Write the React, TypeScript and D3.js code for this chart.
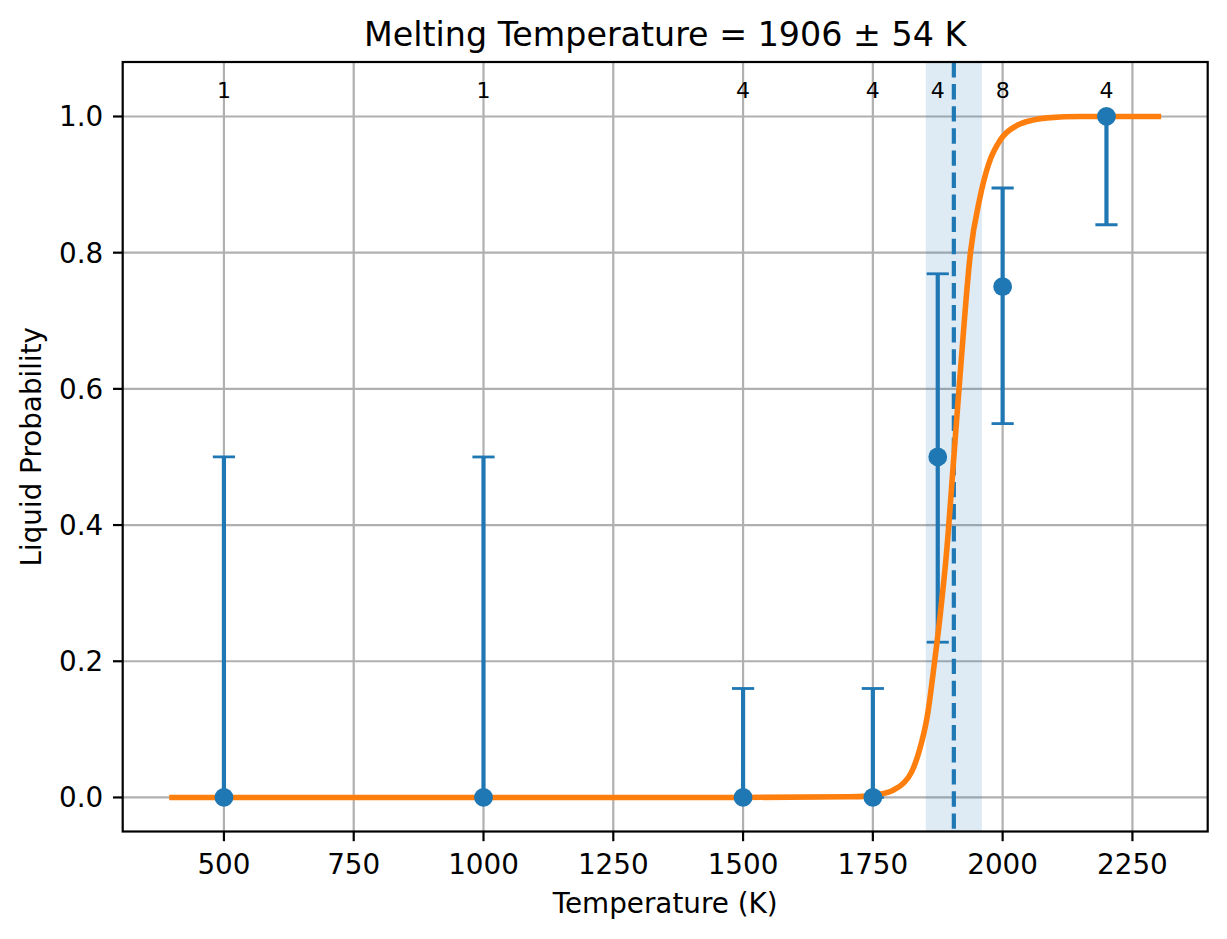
import React from "react";
import * as d3 from "d3";

// Data
const temperatures = [500, 1000, 1500, 1750, 1875, 2000, 2200];
const probabilities = [0, 0, 0, 0, 0.5, 0.75, 1.0];
const lowerBounds = [0, 0, 0, 0, 0.228, 0.549, 0.841];
const upperBounds = [0.5, 0.5, 0.16, 0.16, 0.769, 0.895, 1.0];
const counts = [1, 1, 4, 4, 4, 8, 4];

// Fitted curve (T, probability)
const curveT = [400, 1500, 1700, 1740, 1758, 1790, 1809, 1825, 1840, 1855, 1869, 1880, 1892, 1906, 1920, 1938, 1956, 1973, 1996, 2028, 2060, 2086, 2150, 2300];
const curveP = [0, 0, 0.001, 0.002, 0.004, 0.011, 0.021, 0.038, 0.07, 0.12, 0.2, 0.27, 0.36, 0.5, 0.64, 0.8, 0.88, 0.93, 0.966, 0.987, 0.995, 0.998, 1.0, 1.0];

const meltingT = 1906;
const meltingErr = 54;
const xTicks = [500, 750, 1000, 1250, 1500, 1750, 2000, 2250];
const yTicks = [0, 0.2, 0.4, 0.6, 0.8, 1.0];

const W = 1227;
const H = 939;
const M = { left: 122.7, right: 1207.7, top: 62, bottom: 831.5 };
const BLUE = "#1f77b4";
const ORANGE = "#ff7f0e";
const FONT = "DejaVu Sans, sans-serif";

export default function App() {
  const x = d3.scaleLinear().domain([305, 2395]).range([M.left, M.right]);
  const y = d3.scaleLinear().domain([-0.05, 1.08]).range([M.bottom, M.top]);

  const curveData = curveT.map((t, i) => [t, curveP[i]] as [number, number]);
  const line = d3
    .line<[number, number]>()
    .x((d) => x(d[0]))
    .y((d) => y(d[1]))
    .curve(d3.curveMonotoneX);

  const capHalf = 11.1;
  const tickLen = 9.7;

  return (
    <svg
      width={W}
      height={H}
      style={{ position: "absolute", left: 0, top: 0, background: "#fff" }}
      fontFamily={FONT}
    >
      <rect x={0} y={0} width={W} height={H} fill="#fff" />
      <defs>
        <clipPath id="axclip">
          <rect x={M.left} y={M.top} width={M.right - M.left} height={M.bottom - M.top} />
        </clipPath>
      </defs>
      {/* grid */}
      <g stroke="#b0b0b0" strokeWidth={2.2}>
        {xTicks.map((t) => (
          <line key={"gx" + t} x1={x(t)} x2={x(t)} y1={M.top} y2={M.bottom} />
        ))}
        {yTicks.map((t) => (
          <line key={"gy" + t} x1={M.left} x2={M.right} y1={y(t)} y2={y(t)} />
        ))}
      </g>
      <g clipPath="url(#axclip)">
        {/* uncertainty band */}
        <rect
          x={x(meltingT - meltingErr)}
          y={M.top}
          width={x(meltingT + meltingErr) - x(meltingT - meltingErr)}
          height={M.bottom - M.top}
          fill={BLUE}
          fillOpacity={0.15}
        />
        {/* melting line */}
        <line
          x1={x(meltingT)}
          x2={x(meltingT)}
          y1={M.top}
          y2={M.bottom}
          stroke={BLUE}
          strokeWidth={4.2}
          strokeDasharray="15.4 6.7"
        />
        {/* error bars */}
        <g stroke={BLUE}>
          {temperatures.map((t, i) => (
            <g key={"eb" + t}>
              <line x1={x(t)} x2={x(t)} y1={y(lowerBounds[i])} y2={y(upperBounds[i])} strokeWidth={4.2} />
              <line x1={x(t) - capHalf} x2={x(t) + capHalf} y1={y(lowerBounds[i])} y2={y(lowerBounds[i])} strokeWidth={2.8} />
              <line x1={x(t) - capHalf} x2={x(t) + capHalf} y1={y(upperBounds[i])} y2={y(upperBounds[i])} strokeWidth={2.8} />
            </g>
          ))}
        </g>
        {/* fitted curve */}
        <path d={line(curveData) || ""} fill="none" stroke={ORANGE} strokeWidth={5.6} strokeLinecap="square" />
        {/* markers */}
        {temperatures.map((t, i) => (
          <circle key={"m" + t} cx={x(t)} cy={y(probabilities[i])} r={9.4} fill={BLUE} />
        ))}
        {/* counts */}
        {temperatures.map((t, i) => (
          <text key={"c" + t} x={x(t)} y={y(1.027)} fontSize={22} textAnchor="middle" fill="#000">
            {counts[i]}
          </text>
        ))}
      </g>
      {/* spines */}
      <rect
        x={M.left}
        y={M.top}
        width={M.right - M.left}
        height={M.bottom - M.top}
        fill="none"
        stroke="#000"
        strokeWidth={2.2}
      />
      {/* x ticks */}
      <g>
        {xTicks.map((t) => (
          <g key={"xt" + t}>
            <line x1={x(t)} x2={x(t)} y1={M.bottom} y2={M.bottom + tickLen} stroke="#000" strokeWidth={2.2} />
            <text x={x(t)} y={874.3} fontSize={27.8} textAnchor="middle" fill="#000">
              {t}
            </text>
          </g>
        ))}
      </g>
      {/* y ticks */}
      <g>
        {yTicks.map((t) => (
          <g key={"yt" + t}>
            <line x1={M.left - tickLen} x2={M.left} y1={y(t)} y2={y(t)} stroke="#000" strokeWidth={2.2} />
            <text x={M.left - tickLen - 9.7} y={y(t)} dy="0.36em" fontSize={27.8} textAnchor="end" fill="#000">
              {t.toFixed(1)}
            </text>
          </g>
        ))}
      </g>
      {/* labels */}
      <text x={(M.left + M.right) / 2} y={913.3} fontSize={27.8} textAnchor="middle" fill="#000">
        Temperature (K)
      </text>
      <text
        transform={`translate(41,${(M.top + M.bottom) / 2}) rotate(-90)`}
        fontSize={27.8}
        textAnchor="middle"
        fill="#000"
      >
        Liquid Probability
      </text>
      <text x={(M.left + M.right) / 2} y={46} fontSize={33.3} textAnchor="middle" fill="#000">
        Melting Temperature = {meltingT} ± {meltingErr} K
      </text>
    </svg>
  );
}
